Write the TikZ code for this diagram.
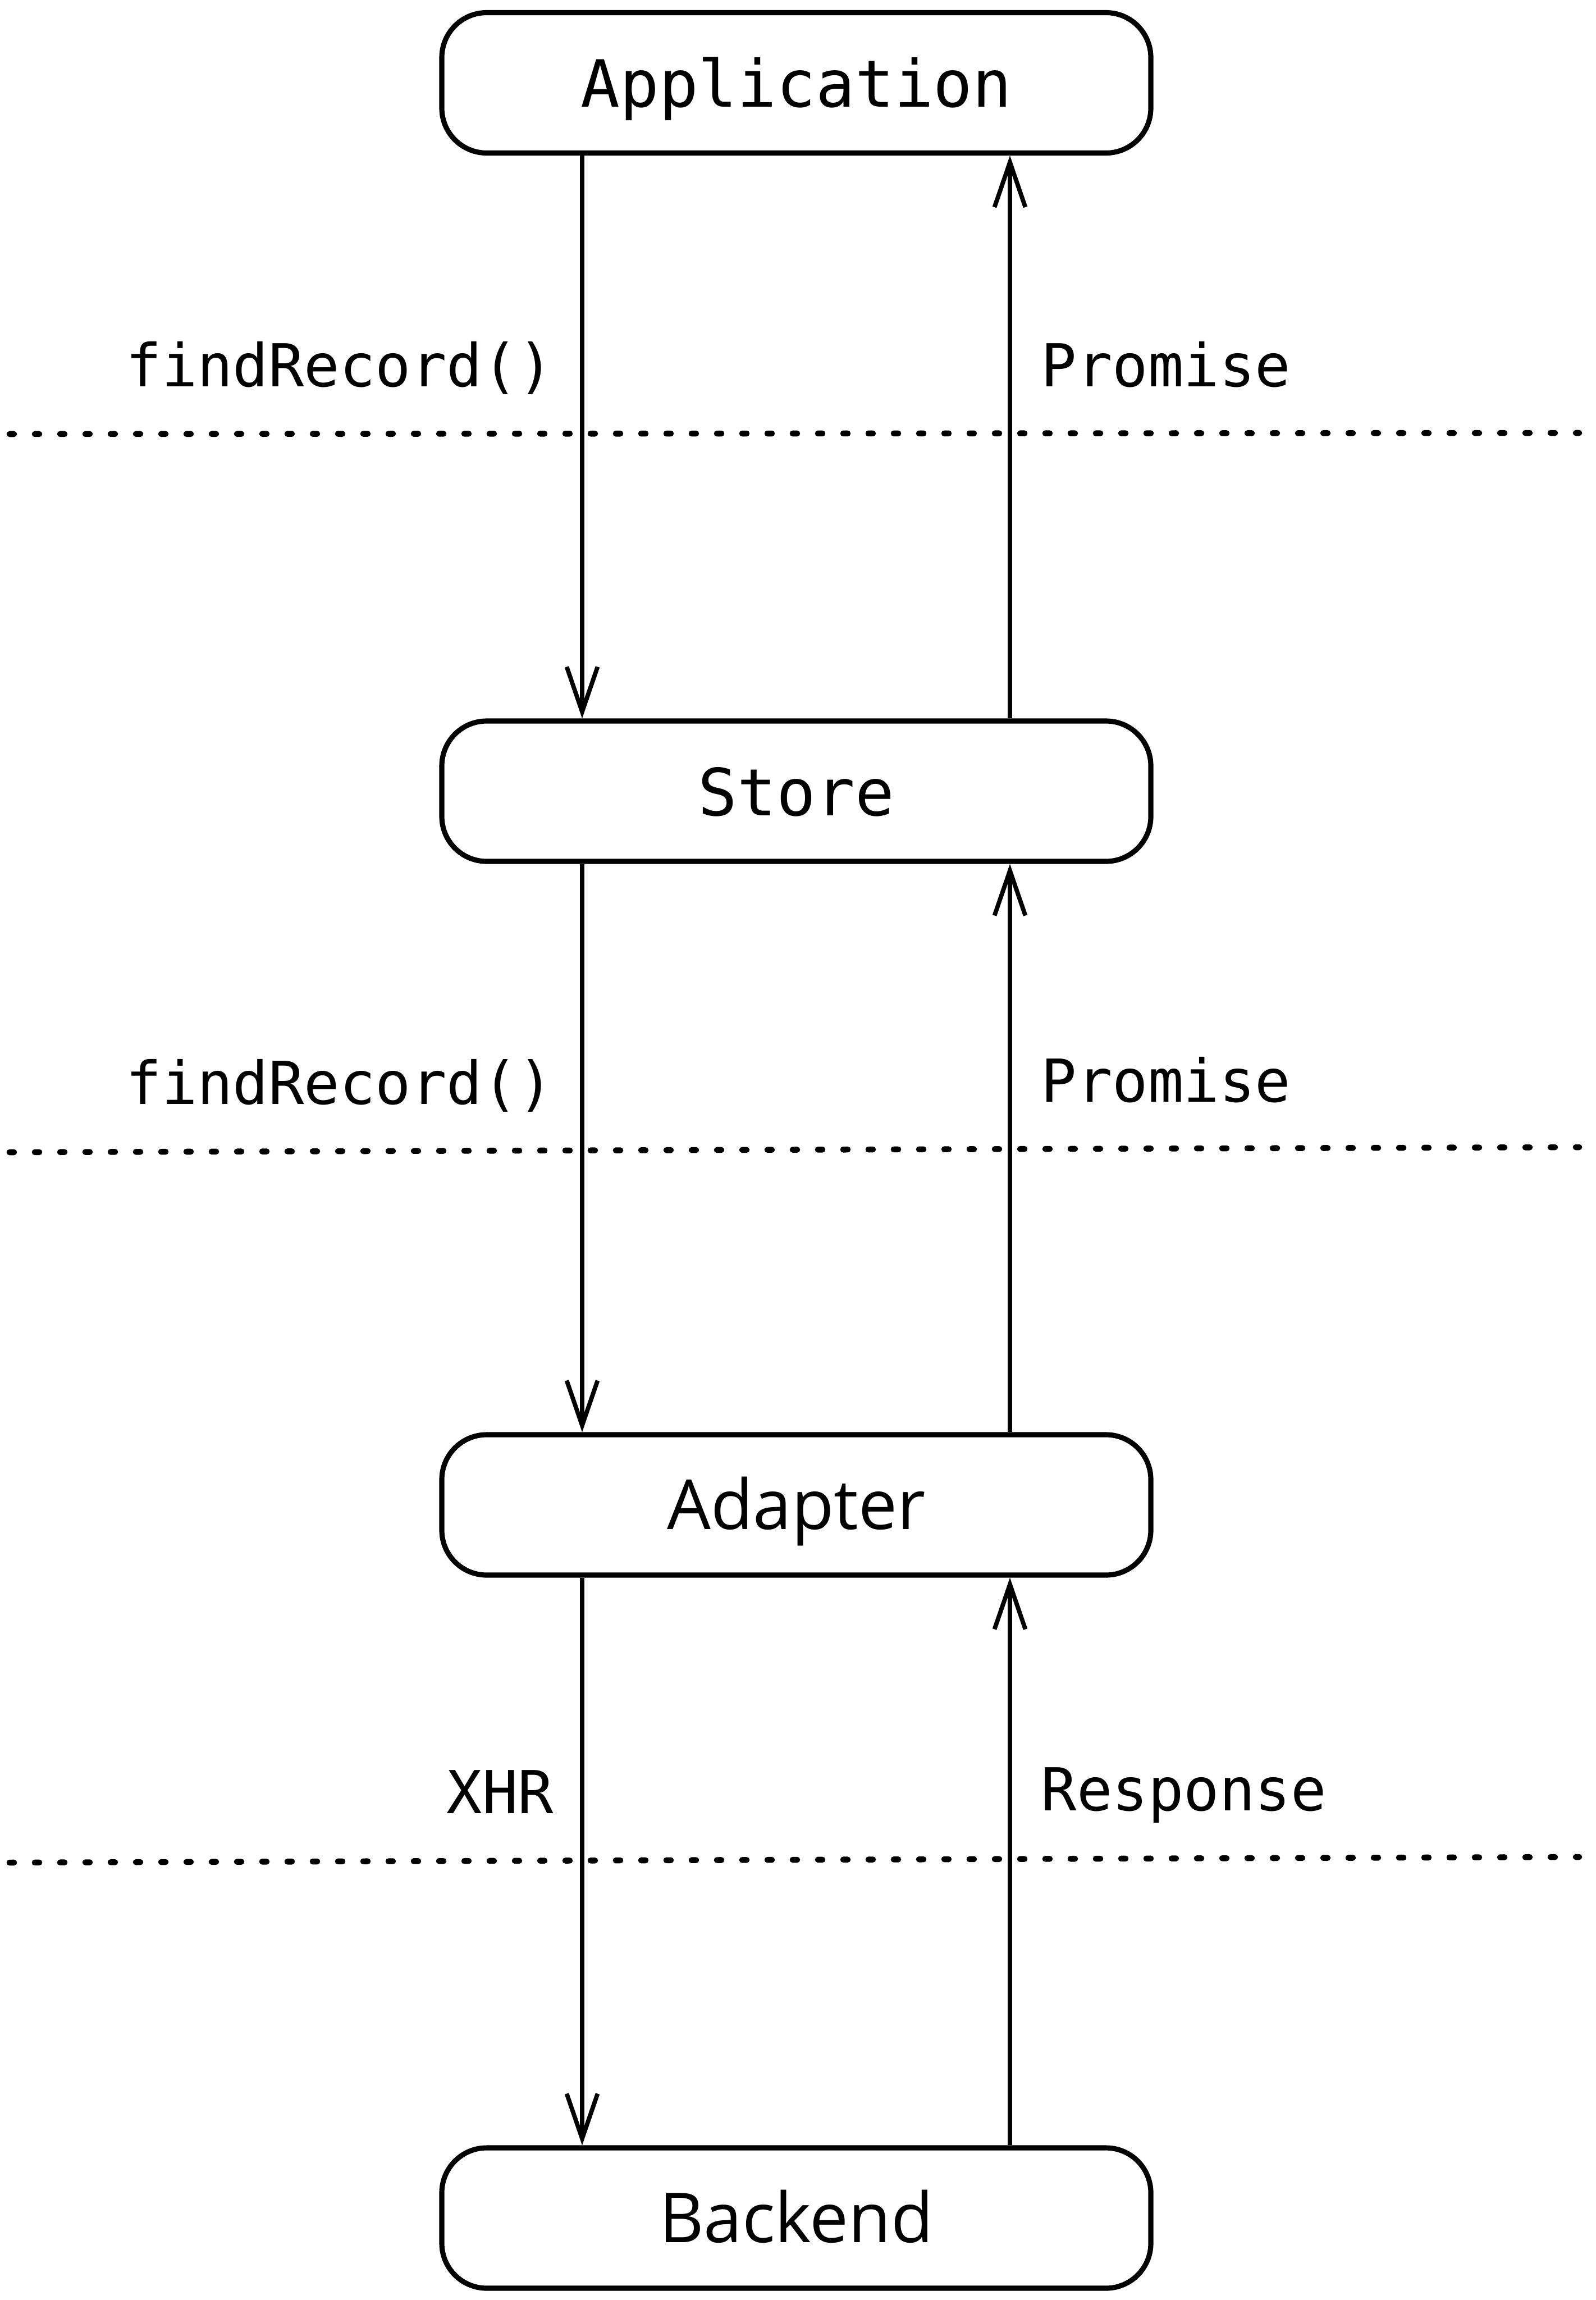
\documentclass[tikz,border=0pt]{standalone}
\usepackage{fontspec}
\setmonofont{DejaVu Sans Mono}
\newfontfamily\layersans{Open Sans}
\usetikzlibrary{arrows.meta}
\tikzset{
  layer/.style={draw, line width=2.6pt, rounded corners=0.8cm, minimum width=12.63cm,
    minimum height=2.5cm, inner sep=0pt, text height=0.86cm, text depth=0pt},
  monolayer/.style={layer, font=\ttfamily\fontsize{33}{33}\selectfont},
  sanslayer/.style={layer, font=\layersans\fontsize{35}{35}\selectfont},
  flow/.style={line width=2.2pt, -{Straight Barb[length=0.8cm, width=0.55cm]}},
  callnote/.style={inner sep=0pt, font=\ttfamily\fontsize{30}{30}\selectfont},
  boundary/.style={line width=3pt, line cap=round, dash pattern=on 0.08cm off 0.37cm}
}
\begin{document}
\begin{tikzpicture}
\useasboundingbox (0,0) rectangle (28.42,-40.96);
\node[monolayer] (app) at (14.185,-1.475) {Application};
\node[monolayer] (store) at (14.185,-14.09) {Store};
\node[sanslayer] (adapter) at (14.185,-26.80) {Adapter};
\node[sanslayer] (backend) at (14.185,-39.50) {Backend};
\coordinate (downx) at (10.37,0);
\coordinate (upx) at (17.99,0);
\draw[boundary] (0.17,-7.73) -- (28.13,-7.71);
\draw[boundary] (0.17,-20.52) -- (28.13,-20.43);
\draw[boundary] (0.17,-33.17) -- (28.13,-33.07);
\draw[flow] (app.south -| downx) -- (store.north -| downx);
\draw[flow] (store.north -| upx) -- (app.south -| upx);
\draw[flow] (store.south -| downx) -- (adapter.north -| downx);
\draw[flow] (adapter.north -| upx) -- (store.south -| upx);
\draw[flow] (adapter.south -| downx) -- (backend.north -| downx);
\draw[flow] (backend.north -| upx) -- (adapter.south -| upx);
\node[callnote, anchor=base east] (call1) at (9.87,-6.88) {findRecord()};
\node[callnote, anchor=base west] (reply1) at (18.54,-6.88) {Promise};
\node[callnote, anchor=base east] (call2) at (9.87,-19.66) {findRecord()};
\node[callnote, anchor=base west] (reply2) at (18.54,-19.62) {Promise};
\node[callnote, anchor=base east] (call3) at (9.87,-32.29) {XHR};
\node[callnote, anchor=base west] (reply3) at (18.54,-32.24) {Response};
\end{tikzpicture}
\end{document}
